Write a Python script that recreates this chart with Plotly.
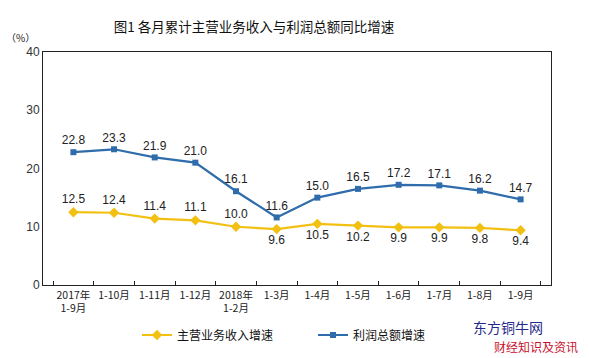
import plotly.graph_objects as go

categories = ["2017年<br>1-9月", "1-10月", "1-11月", "1-12月", "2018年<br>1-2月", "1-3月",
              "1-4月", "1-5月", "1-6月", "1-7月", "1-8月", "1-9月"]
revenue_growth = [12.5, 12.4, 11.4, 11.1, 10.0, 9.6, 10.5, 10.2, 9.9, 9.9, 9.8, 9.4]
profit_growth = [22.8, 23.3, 21.9, 21.0, 16.1, 11.6, 15.0, 16.5, 17.2, 17.1, 16.2, 14.7]
revenue_label_pos = ["top center"] * 5 + ["bottom center"] * 7

W, H = 589, 358
L, R, T, B = 43, 38, 52, 73
PW, PH = W - L - R, H - T - B

def px(x):
    return (x - L) / PW

def py(y):
    return (H - B - y) / PH

fig = go.Figure()
fig.add_trace(go.Scatter(
    x=categories, y=revenue_growth, name="主营业务收入增速",
    mode="lines+markers+text",
    line=dict(color="#F2C012", width=2.2),
    marker=dict(symbol="diamond", size=8, color="#F2C012"),
    text=[f"{v:.1f}" for v in revenue_growth], textposition=revenue_label_pos,
    textfont=dict(size=12, color="#222222", family="Arial, Liberation Sans"),
    cliponaxis=False, legend="legend",
))
fig.add_trace(go.Scatter(
    x=categories, y=profit_growth, name="利润总额增速",
    mode="lines+markers+text",
    line=dict(color="#2F6CAB", width=2.2),
    marker=dict(symbol="square", size=6, color="#2F6CAB"),
    text=[f"{v:.1f}" for v in profit_growth], textposition="top center",
    textfont=dict(size=12, color="#222222", family="Arial, Liberation Sans"),
    cliponaxis=False, legend="legend2",
))

leg_common = dict(orientation="h", xanchor="left", yanchor="middle",
                  font=dict(size=12, color="#111111"), bgcolor="rgba(0,0,0,0)",
                  itemwidth=30)

fig.update_layout(
    width=W, height=H,
    margin=dict(l=L, r=R, t=T, b=B, autoexpand=False),
    paper_bgcolor="white", plot_bgcolor="white",
    font=dict(family="Noto Sans CJK SC, Liberation Sans", color="#222222"),
    title=dict(text="图1 各月累计主营业务收入与利润总额同比增速",
               x=254 / W, xanchor="center", y=1 - 27 / H, yanchor="middle",
               yref="container", font=dict(size=13.5, color="#111111")),
    showlegend=True,
    legend=dict(x=px(137), y=py(335), **leg_common),
    legend2=dict(x=px(313), y=py(335), **leg_common),
    xaxis=dict(type="category", showline=True, linecolor="#222222", linewidth=1,
               mirror=True, ticks="inside", tickson="boundaries", ticklen=4,
               tickcolor="#222222", showgrid=False, automargin=False,
               tickfont=dict(size=10.5, color="#222222", family="Noto Sans CJK SC"),
               tickangle=0),
    yaxis=dict(range=[0, 40], dtick=10, showline=True, linecolor="#222222", linewidth=1,
               mirror=True, ticks="", showgrid=False, zeroline=False, automargin=False,
               tickfont=dict(size=12, color="#333333", family="Arial, Liberation Sans")),
    annotations=[
        dict(text="（%）", xref="paper", yref="paper", x=px(20),
             y=py(38), xanchor="center", yanchor="middle",
             showarrow=False, font=dict(size=10, color="#222222")),
        dict(text="东方铜牛网", xref="paper", yref="paper", x=px(508),
             y=py(327), xanchor="center", yanchor="middle",
             showarrow=False, font=dict(size=14, color="#1F2A8A")),
        dict(text="财经知识及资讯", xref="paper", yref="paper", x=px(536),
             y=py(346), xanchor="center", yanchor="middle",
             showarrow=False, font=dict(size=12, color="#C8102E")),
    ],
)

fig.write_html("out.html", config={"displayModeBar": False},
               post_script="document.body.style.margin='0';document.body.style.overflow='hidden';")
